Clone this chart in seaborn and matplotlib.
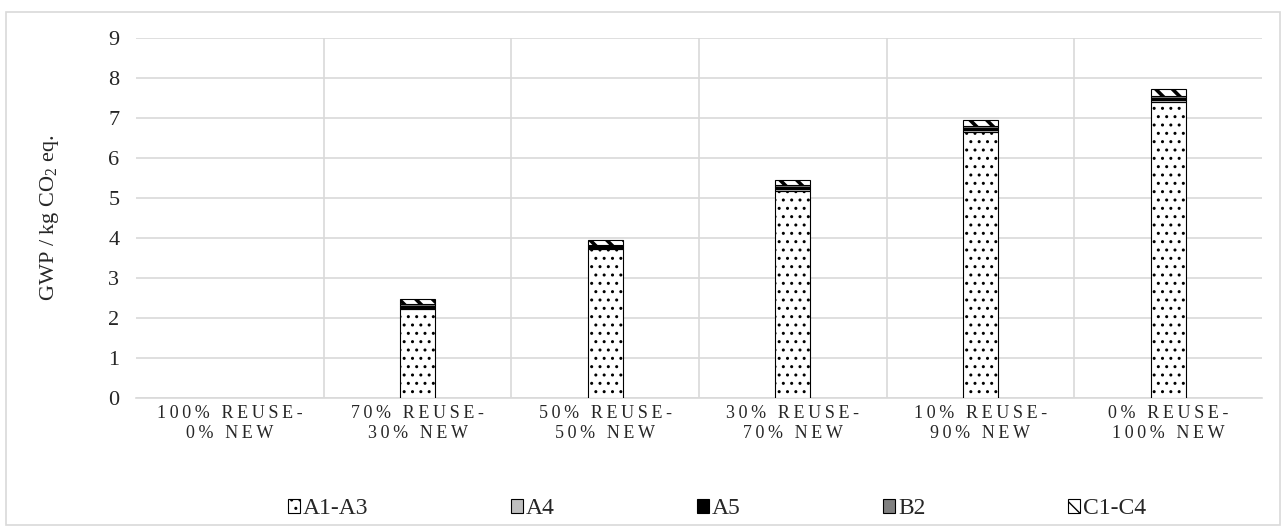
import matplotlib
matplotlib.use("Agg")
import matplotlib.pyplot as plt
import seaborn as sns
import numpy as np
from matplotlib.patches import Rectangle, Patch

# Scenarios: share of reused vs. new material
categories = ["100% REUSE-\n0% NEW", "70% REUSE-\n30% NEW", "50% REUSE-\n50% NEW",
              "30% REUSE-\n70% NEW", "10% REUSE-\n90% NEW", "0% REUSE-\n100% NEW"]

# Life-cycle modules, GWP in kg CO2 eq.
a1_a3 = [0.00, 2.22, 3.72, 5.18, 6.65, 7.40]
a4 = [0.00, 0.04, 0.03, 0.05, 0.05, 0.05]
a5 = [0.00, 0.04, 0.04, 0.05, 0.05, 0.05]
b2 = [0.00, 0.05, 0.04, 0.05, 0.06, 0.06]
c1_c4 = [0.00, 0.12, 0.13, 0.13, 0.15, 0.16]

series = ["A1-A3", "A4", "A5", "B2", "C1-C4"]
values = [a1_a3, a4, a5, b2, c1_c4]
yticks = list(range(0, 10))

styles = {
    "A1-A3": dict(color="white", hatch="..", hlw=1.0),
    "A4": dict(color="#BFBFBF", hatch=None, hlw=1.0),
    "A5": dict(color="black", hatch=None, hlw=1.0),
    "B2": dict(color="#808080", hatch=None, hlw=1.0),
    "C1-C4": dict(color="white", hatch="\\\\", hlw=2.6),
}

sns.set_theme(style="white")
plt.rcParams["font.family"] = ["Liberation Serif", "DejaVu Serif"]
plt.rcParams["mathtext.fontset"] = "custom"
plt.rcParams["mathtext.rm"] = "Liberation Serif"
plt.rcParams["mathtext.it"] = "Liberation Serif:italic"
plt.rcParams["hatch.color"] = "black"


def tracked(label, gap="\u2009"):
    """Letter-spaced version of a label (a thin space between characters)."""
    return "\n".join(gap.join(line) for line in label.split("\n"))


fig = plt.figure(figsize=(12.86, 5.30), dpi=100)
W, H = 1286, 530
ax = fig.add_axes([136 / W, (H - 398) / H, (1262 - 136) / W, 360 / H])

bottom = np.zeros(len(categories))
for name, vals in zip(series, values):
    st = styles[name]
    before = len(ax.patches)
    with plt.rc_context({"hatch.linewidth": st["hlw"]}):
        sns.barplot(x=categories, y=vals, bottom=bottom, ax=ax, color=st["color"],
                    saturation=1, width=0.187, edgecolor="black", linewidth=0.8,
                    hatch=st["hatch"], zorder=3)
        for p in ax.patches[before:]:
            if hasattr(p, "set_hatch_linewidth"):
                p.set_hatch_linewidth(st["hlw"])
            if p.get_height() == 0:
                p.set_visible(False)
    bottom = bottom + np.array(vals)

ax.set_xlim(-0.5, len(categories) - 0.5)
ax.set_ylim(0, 9)
ax.set_yticks(yticks)
ax.set_yticklabels([str(t) for t in yticks], fontsize=16)
ax.tick_params(axis="y", length=0, pad=12)
ax.tick_params(axis="x", length=0, pad=5)
ax.set_xticks(range(len(categories)))
ax.set_xticklabels([tracked(c) for c in categories], fontsize=13, linespacing=1.2)

# Horizontal gridlines and category separators
ax.grid(axis="y", color="#D9D9D9", linewidth=1.2, zorder=0)
for xb in np.arange(0.5, len(categories) - 0.5, 1.0):
    ax.axvline(xb, color="#D9D9D9", linewidth=1.2, zorder=0)
for s in ["top", "right", "left"]:
    ax.spines[s].set_visible(False)
ax.spines["bottom"].set_color("#D9D9D9")
ax.spines["bottom"].set_linewidth(1.2)
ax.set_xlabel("")
ax.set_ylabel("GWP / kg CO$_2$ eq.", fontsize=16, labelpad=34)

# Legend below the chart
handles = [Patch(facecolor=styles[n]["color"], edgecolor="black", linewidth=0.8,
                 hatch=styles[n]["hatch"]) for n in series]
leg = fig.legend(handles, series, loc="center", bbox_to_anchor=(0.5575, (H - 509) / H),
                 ncol=5, frameon=False, fontsize=17, handlelength=0.5, handleheight=0.5,
                 handletextpad=0.12, columnspacing=6.05)

# Chart border
fig.add_artist(Rectangle((6 / W, 5 / H), (W - 12) / W, (H - 17) / H, transform=fig.transFigure,
                         fill=False, edgecolor="#D9D9D9", linewidth=1.2))

fig.savefig("out.png", dpi=100)
